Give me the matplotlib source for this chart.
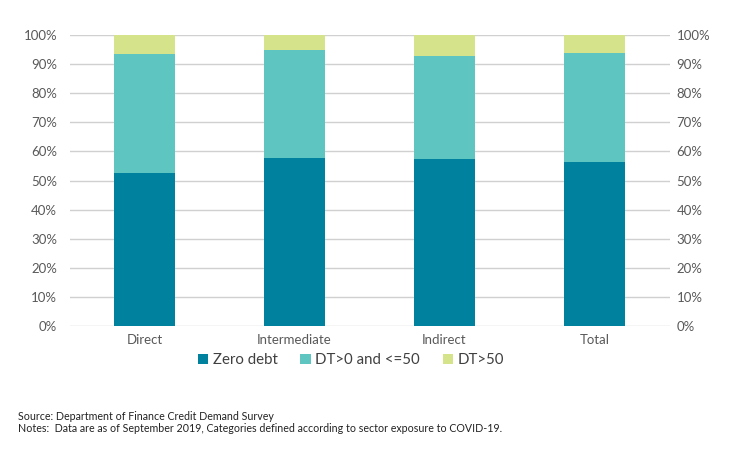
import matplotlib
matplotlib.use("Agg")
import matplotlib.pyplot as plt
from matplotlib.ticker import PercentFormatter
from matplotlib.patches import Patch

plt.rcParams['font.family'] = ['Lato', 'DejaVu Sans']

categories = ["Direct", "Intermediate", "Indirect", "Total"]
zero_debt = [52.6, 57.8, 57.4, 56.4]
dt_low = [40.9, 37.0, 35.4, 37.4]
dt_high = [6.5, 5.2, 7.2, 6.2]
series_names = ["Zero debt", "DT>0 and <=50", "DT>50"]
colors = ["#00829F", "#5FC5C1", "#D5E38A"]

fig = plt.figure(figsize=(7.56, 4.5), dpi=100)
ax = fig.add_axes([69.5/756, 1 - 326/450, 600/756, 291/450])

x = range(len(categories))
w = 0.41
ax.bar(x, zero_debt, width=w, color=colors[0], zorder=3)
ax.bar(x, dt_low, width=w, bottom=zero_debt, color=colors[1], zorder=3)
bottom2 = [a + b for a, b in zip(zero_debt, dt_low)]
ax.bar(x, dt_high, width=w, bottom=bottom2, color=colors[2], zorder=3)

ax.set_xlim(-0.5, len(categories) - 0.5)
ax.set_ylim(0, 100)
ax.set_yticks(range(0, 101, 10))
ax.yaxis.set_major_formatter(PercentFormatter(decimals=0))
ax.set_xticks(list(x))
ax.set_xticklabels(categories)
ax.grid(axis='y', color='#D0D0D0', linewidth=1, zorder=0)
for s in ax.spines.values():
    s.set_visible(False)
ax.tick_params(axis='both', length=0, labelsize=9.5, colors='#595959', pad=6)
ax.tick_params(axis='y', pad=9)

ax2 = ax.twinx()
ax2.set_ylim(0, 100)
ax2.set_yticks(range(0, 101, 10))
ax2.yaxis.set_major_formatter(PercentFormatter(decimals=0))
for s in ax2.spines.values():
    s.set_visible(False)
ax2.tick_params(axis='y', length=0, labelsize=9.5, colors='#595959', pad=5)

handles = [Patch(facecolor=c, edgecolor='none') for c in colors]
fig.legend(handles, series_names, loc='center', bbox_to_anchor=(351/756, 1 - 360/450),
           ncol=3, frameon=False, fontsize=10.8, handlelength=0.7, handleheight=0.7,
           handletextpad=0.3, columnspacing=1.5, labelcolor='#404040')

fig.text(18/756, 1 - 417/450, "Source: Department of Finance Credit Demand Survey",
         fontsize=7.7, color='#222222', va='center')
fig.text(18/756, 1 - 429/450,
         "Notes:  Data are as of September 2019, Categories defined according to sector exposure to COVID-19.",
         fontsize=7.7, color='#222222', va='center')

fig.savefig("out.png", dpi=100)
